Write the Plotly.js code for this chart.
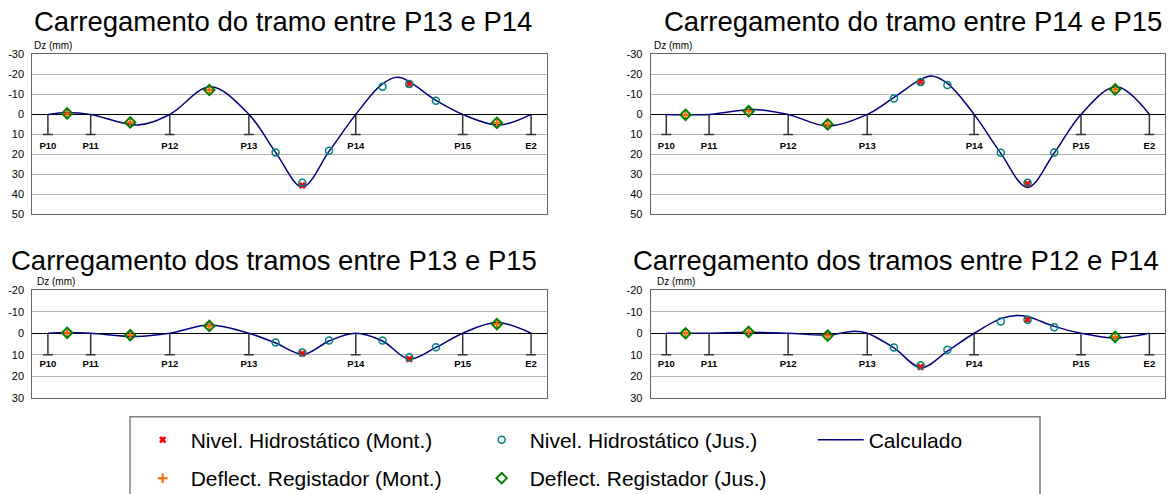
<!DOCTYPE html>
<html><head><meta charset="utf-8">
<script src="https://cdn.plot.ly/plotly-3.0.1.min.js"></script>
<style>html,body{margin:0;padding:0;background:#fff;} #chart{width:1169px;height:494px;}</style>
</head><body><div id="chart"></div>
<script>
// ---------- data ----------
const pierNames = ['P10', 'P11', 'P12', 'P13', 'P14', 'P15', 'E2'];
const pierX = [0, 20, 57, 94, 144, 194, 226];
const measX = [9, 38.5, 75.5, 106.5, 119, 131.5, 156.5, 169, 181.5, 210];

const panelTitles = [
  'Carregamento do tramo entre P13 e P14',
  'Carregamento do tramo entre P14 e P15',
  'Carregamento dos tramos entre P13 e P15',
  'Carregamento dos tramos entre P12 e P14'
];
const seriesNames = [
  'Nivel. Hidrostático (Mont.)',
  'Nivel. Hidrostático (Jus.)',
  'Calculado',
  'Deflect. Registador (Mont.)',
  'Deflect. Registador (Jus.)'
];
const yAxisLabel = 'Dz (mm)';
const tickTopVals = [-30, -20, -10, 0, 10, 20, 30, 40, 50];
const tickTopText = ['-30', '-20', '-10', '0', '10', '20', '30', '40', '50'];
const tickBotVals = [-20, -10, 0, 10, 20, 30];
const tickBotText = ['-20', '-10', '0', '10', '20', '30'];

// Panel 1 : P13-P14
const nhMont1 = [null, null, null, null, 35.5, null, null, -15.2, null, null];
const nhJus1  = [null, null, null, 19, 34.2, 18.2, -13.8, -15.2, -6.8, null];
const drMont1 = [-0.5, 4, -12.2, null, null, null, null, null, null, 4.2];
const drJus1  = [-0.5, 4, -12.2, null, null, null, null, null, null, 4.2];
const calcX1 = [0, 9, 20, 42, 57, 76, 94, 106.5, 119, 131.5, 144, 156.5, 164.5, 181.5, 194, 211, 226];
const calcY1 = [0, -1, 0, 5.3, 0, -13.8, 0, 19, 36.2, 18.5, 0, -15.3, -18.5, -7, 0, 5.3, 0];

// Panel 2 : P14-P15
const nhMont2 = [null, null, null, null, -16.2, null, null, 34.8, null, null];
const nhJus2  = [null, null, null, -8, -16.2, -14.7, 19.2, 34.2, 19, null];
const drMont2 = [0.2, -1.6, 5, null, null, null, null, null, null, -12.5];
const drJus2  = [0.2, -1.6, 5, null, null, null, null, null, null, -12.5];
const calcX2 = [0, 9, 20, 41, 57, 75.5, 94, 106.5, 119, 124, 131.5, 144, 156.5, 169, 181.5, 194, 210.5, 226];
const calcY2 = [0, 0.2, 0, -2.5, 0, 5.8, 0, -8.5, -17.5, -19.2, -15.5, 0, 19.5, 36.5, 19.3, 0, -13.8, 0];

// Panel 3 : P13-P15
const nhMont3 = [null, null, null, null, 9.5, null, null, 12, null, null];
const nhJus3  = [null, null, null, 4.3, 8.9, 3.4, 3.4, 11.2, 6.5, null];
const drMont3 = [-0.2, 0.9, -3.4, null, null, null, null, null, null, -4.3];
const drJus3  = [-0.2, 0.9, -3.4, null, null, null, null, null, null, -4.3];
const calcX3 = [0, 9, 20, 41, 57, 75.8, 94, 106.5, 119.5, 131.5, 144, 156.5, 169, 181.5, 194, 210, 226];
const calcY3 = [0, -0.3, 0, 1.5, 0, -3.8, 0, 4.5, 9.8, 3.6, 0, 3.6, 12, 6.6, 0, -5, 0];

// Panel 4 : P12-P14
const nhMont4 = [null, null, null, null, 15.7, null, null, -6.3, null, null];
const nhJus4  = [null, null, null, 6.6, 14.9, 7.7, -5.5, -6.3, -2.8, null];
const drMont4 = [0, -0.6, 1.1, null, null, null, null, null, null, 1.7];
const drJus4  = [0, -0.6, 1.1, null, null, null, null, null, null, 1.7];
const calcX4 = [0, 9, 20, 38.5, 57, 75.5, 88, 94, 106.5, 119.3, 131.5, 144, 156.5, 164, 169, 181.5, 194, 210, 226];
const calcY4 = [0, 0, 0, -0.5, 0, 0.8, -0.9, 0, 6.8, 16, 8.3, 0, -6.8, -8.3, -7.8, -3.2, 0, 2.2, 0];

// ---------- layout helpers ----------
const W = 1169, H = 494;
const FONT = 'Liberation Sans, Arial, sans-serif';
const fx = px => px / W;
const fy = py => 1 - py / H;
const supportDepth = 10;

const panels = [
  {nhM: nhMont1, nhJ: nhJus1, drM: drMont1, drJ: drJus1, cx: calcX1, cy: calcY1, col: 0, row: 0},
  {nhM: nhMont2, nhJ: nhJus2, drM: drMont2, drJ: drJus2, cx: calcX2, cy: calcY2, col: 1, row: 0},
  {nhM: nhMont3, nhJ: nhJus3, drM: drMont3, drJ: drJus3, cx: calcX3, cy: calcY3, col: 0, row: 1},
  {nhM: nhMont4, nhJ: nhJus4, drM: drMont4, drJ: drJus4, cx: calcX4, cy: calcY4, col: 1, row: 1}
];
const colPx = [[32.3, 546.7], [650.7, 1165]];
const rowPx = [[54.4, 214.4], [290.3, 397.7]];
const rowRange = [[50, -30], [30, -20]];
const rowTicks = [[tickTopVals, tickTopText], [tickBotVals, tickBotText]];
const labelY = [16, 14.5];
const titlePos = [[283, 22], [913, 22], [274, 260], [896, 260]];
const dzPos = [[33.3, 46], [652.7, 46], [36, 281.5], [655.7, 281]];

const traces = [];
const layout = {
  width: W, height: H,
  margin: {l: 0, r: 0, t: 0, b: 0, autoexpand: false},
  paper_bgcolor: '#fff', plot_bgcolor: '#fff',
  font: {family: FONT, color: '#000'},
  annotations: [],
  shapes: [],
  legend: {
    orientation: 'h', x: fx(134.7), xanchor: 'left', y: fy(419.6), yanchor: 'top',
    font: {size: 21, family: FONT, color: '#000'}, itemwidth: 46, entrywidth: 278,
    bgcolor: 'rgba(0,0,0,0)', borderwidth: 0, traceorder: 'normal'
  },
  legend2: {
    orientation: 'h', x: fx(134.7), xanchor: 'left', y: fy(458), yanchor: 'top',
    font: {size: 21, family: FONT, color: '#000'}, itemwidth: 46, entrywidth: 278,
    bgcolor: 'rgba(0,0,0,0)', borderwidth: 0, traceorder: 'normal'
  }
};

panels.forEach((p, i) => {
  const n = i + 1;
  const xa = 'x' + (n === 1 ? '' : n), ya = 'y' + (n === 1 ? '' : n);
  const xKey = 'xaxis' + (n === 1 ? '' : n), yKey = 'yaxis' + (n === 1 ? '' : n);
  const cp = colPx[p.col], rp = rowPx[p.row];
  layout[xKey] = {
    domain: [fx(cp[0]), fx(cp[1])], anchor: ya, range: [-7.3, 233.3],
    showgrid: false, zeroline: false, showticklabels: false, ticks: '',
    showline: true, mirror: true, linecolor: '#666', linewidth: 1, fixedrange: true
  };
  layout[yKey] = {
    domain: [fy(rp[1]), fy(rp[0])], anchor: xa, range: rowRange[p.row],
    tickmode: 'array', tickvals: rowTicks[p.row][0], ticktext: rowTicks[p.row][1],
    showgrid: true, gridcolor: '#b4b4b4', gridwidth: 1,
    zeroline: true, zerolinecolor: '#000', zerolinewidth: 1.5,
    showline: true, mirror: true, linecolor: '#666', linewidth: 1,
    ticks: '', ticklabelstandoff: 5, tickfont: {size: 11, family: FONT, color: '#000'},
    fixedrange: true
  };
  const show = i === 0;
  // supports
  const sx = [], sy = [];
  pierX.forEach(v => { sx.push(v, v, null); sy.push(0, supportDepth, null); });
  traces.push({x: sx, y: sy, xaxis: xa, yaxis: ya, mode: 'lines', line: {color: '#333', width: 1.5},
               showlegend: false, hoverinfo: 'skip'});
  traces.push({x: pierX, y: pierX.map(() => supportDepth), xaxis: xa, yaxis: ya, mode: 'markers',
               marker: {symbol: 'line-ew', size: 7, line: {color: '#333', width: 1.5}},
               showlegend: false, hoverinfo: 'skip'});
  traces.push({x: pierX, y: pierX.map(() => labelY[p.row]), xaxis: xa, yaxis: ya, mode: 'text',
               text: pierNames, textposition: 'middle center',
               textfont: {size: 9.5, family: FONT, color: '#000', weight: 'bold'},
               showlegend: false, hoverinfo: 'skip', cliponaxis: false});
  // calculated curve
  traces.push({x: p.cx, y: p.cy, xaxis: xa, yaxis: ya, mode: 'lines', name: seriesNames[2],
               line: {color: '#000080', width: 1.5, shape: 'spline', smoothing: 1},
               showlegend: show, legend: 'legend', legendrank: 3});
  traces.push({x: measX, y: p.nhM, xaxis: xa, yaxis: ya, mode: 'markers', name: seriesNames[0],
               marker: {symbol: 'x', size: 6, color: '#ff0000', line: {width: 0.5, color: '#ff0000'}},
               showlegend: show, legend: 'legend', legendrank: 1});
  traces.push({x: measX, y: p.nhJ, xaxis: xa, yaxis: ya, mode: 'markers', name: seriesNames[1],
               marker: {symbol: 'circle-open', size: 7, color: '#008080', line: {width: 1.5, color: '#008080'}},
               showlegend: show, legend: 'legend', legendrank: 2});
  traces.push({x: measX, y: p.drM, xaxis: xa, yaxis: ya, mode: 'markers', name: seriesNames[3],
               marker: {symbol: 'cross-thin', size: 7, color: '#ff6600', line: {width: 2, color: '#ff6600'}},
               showlegend: show, legend: 'legend2', legendrank: 1});
  traces.push({x: measX, y: p.drJ, xaxis: xa, yaxis: ya, mode: 'markers', name: seriesNames[4],
               marker: {symbol: 'diamond-open', size: 8, color: '#008000', line: {width: 2, color: '#008000'}},
               showlegend: show, legend: 'legend2', legendrank: 2});

  layout.annotations.push({
    xref: 'paper', yref: 'paper', x: fx(titlePos[i][0]), y: fy(titlePos[i][1]),
    xanchor: 'center', yanchor: 'middle', showarrow: false, text: panelTitles[i],
    font: {size: 27.5, family: FONT, color: '#000'}
  });
  layout.annotations.push({
    xref: 'paper', yref: 'paper', x: fx(dzPos[i][0]), y: fy(dzPos[i][1]),
    xanchor: 'left', yanchor: 'middle', showarrow: false, text: yAxisLabel,
    font: {size: 10, family: FONT, color: '#000'}, borderpad: 0
  });
});

layout.shapes.push({
  type: 'rect', xref: 'paper', yref: 'paper', x0: fx(130), x1: fx(1040), y0: fy(505), y1: fy(416.7),
  line: {color: '#808080', width: 1.5}, fillcolor: 'rgba(0,0,0,0)', layer: 'below'
});

Plotly.newPlot('chart', traces, layout, {staticPlot: true, displayModeBar: false});
</script>
</body></html>
